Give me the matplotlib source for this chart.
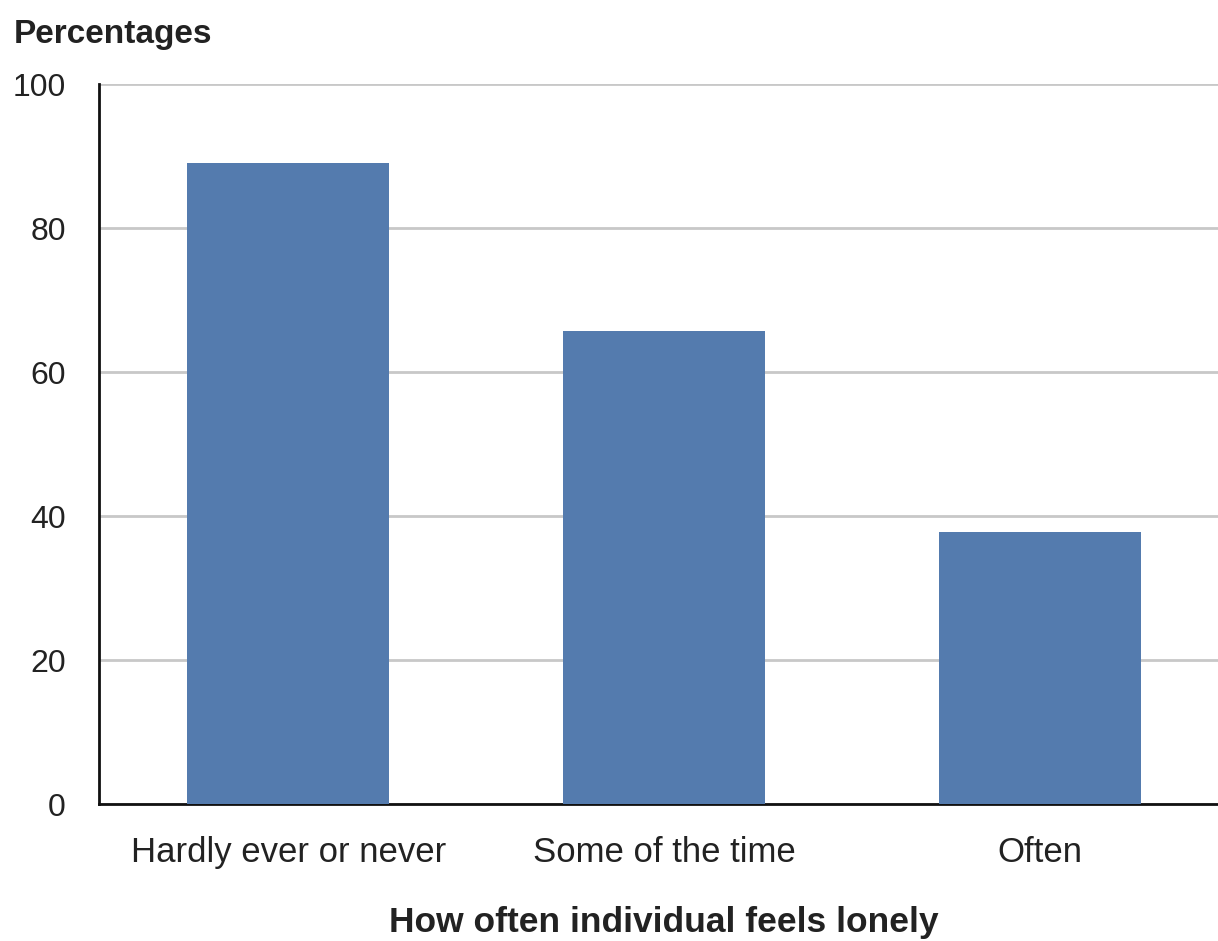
import matplotlib.pyplot as plt

# datos
categories = ['Hardly ever or never', 'Some of the time', 'Often']
percentages = [89.0, 65.7, 37.8]
y_ticks = [0, 20, 40, 60, 80, 100]

bar_color = '#547BAE'
text_color = '#222222'

plt.rcParams['font.family'] = ['Liberation Sans', 'DejaVu Sans']

fig = plt.figure(figsize=(12.18, 9.41), dpi=100)
ax = fig.add_axes([99 / 1218, 137 / 941, 1 - 99 / 1218, 720 / 941])

x = list(range(len(categories)))
ax.bar(x, percentages, width=0.537, color=bar_color, zorder=3)

ax.set_xlim(-0.503, 2.473)
ax.set_ylim(0, 100)
ax.set_yticks(y_ticks)
ax.set_xticks(x)
ax.set_xticklabels(categories)

ax.grid(axis='y', color='#c8c8c8', linewidth=2, zorder=0)
ax.tick_params(axis='both', length=0, labelcolor=text_color)
ax.tick_params(axis='y', pad=24, labelsize=23)
ax.tick_params(axis='x', pad=23, labelsize=25)

for side in ['top', 'right']:
    ax.spines[side].set_visible(False)
for side in ['left', 'bottom']:
    ax.spines[side].set_linewidth(2)
    ax.spines[side].set_color('#111111')

fig.text(14 / 1218, 1 - 35 / 941, 'Percentages', fontsize=24, fontweight='bold',
         color=text_color, ha='left', va='center')
ax.text(1, -0.165, 'How often individual feels lonely', fontsize=25.5, fontweight='bold',
        color=text_color, ha='center', va='center',
        transform=ax.get_xaxis_transform())

fig.savefig('out.png', dpi=100)
